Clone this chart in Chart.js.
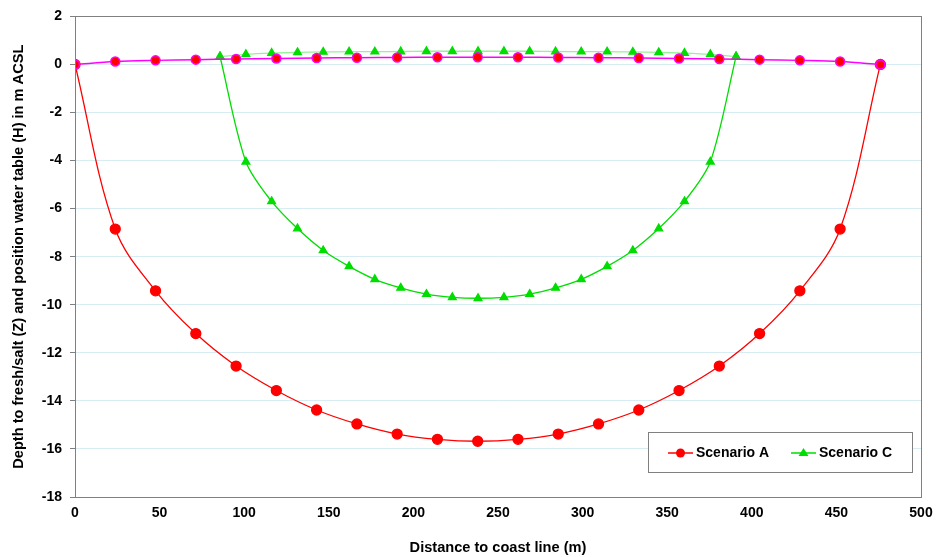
<!DOCTYPE html>
<html>
<head>
<meta charset="utf-8">
<script src="https://cdn.jsdelivr.net/npm/chart.js@4/dist/chart.umd.min.js"></script>
<style>
  html, body { margin: 0; padding: 0; background: #fff; }
  #wrap { width: 937px; height: 557px; }
</style>
</head>
<body>
<div id="wrap"><canvas id="chart"></canvas></div>
<script>
// Scenario A: 21 points along the island
const xA = [0, 23.8, 47.6, 71.4, 95.2, 119, 142.8, 166.6, 190.4, 214.2, 238, 261.8, 285.6, 309.4, 333.2, 357, 380.8, 404.6, 428.4, 452.2, 476];
const depthA = [0, -6.85, -9.42, -11.2, -12.55, -13.57, -14.38, -14.96, -15.38, -15.6, -15.68, -15.6, -15.38, -14.96, -14.38, -13.57, -12.55, -11.2, -9.42, -6.85, 0];
const waterA = [0, 0.12, 0.17, 0.2, 0.23, 0.25, 0.27, 0.28, 0.29, 0.3, 0.3, 0.3, 0.29, 0.28, 0.27, 0.25, 0.23, 0.2, 0.17, 0.12, 0];

// Scenario C: 21 points, narrower lens
const xC = [85.7, 101, 116.2, 131.5, 146.7, 162, 177.2, 192.5, 207.7, 223, 238.2, 253.5, 268.7, 284, 299.2, 314.5, 329.7, 345, 360.2, 375.5, 390.7];
const depthC = [0.33, -4.05, -5.7, -6.83, -7.74, -8.4, -8.94, -9.3, -9.56, -9.69, -9.73, -9.69, -9.56, -9.3, -8.94, -8.4, -7.74, -6.83, -5.7, -4.05, 0.33];
const waterC = [0.33, 0.42, 0.47, 0.5, 0.52, 0.53, 0.53, 0.54, 0.55, 0.55, 0.55, 0.55, 0.55, 0.54, 0.53, 0.53, 0.52, 0.5, 0.47, 0.42, 0.33];

const legendLabels = ['Scenario A', 'Scenario C'];

const pts = (xs, ys) => xs.map((x, i) => ({ x: x, y: ys[i] }));

// legend in a box inside the plot, bottom right
const boxLegend = {
  id: 'boxLegend',
  afterDraw(chart) {
    const ctx = chart.ctx;
    const left = 648, top = 432, w = 264, h = 40;
    ctx.save();
    ctx.fillStyle = '#fff';
    ctx.fillRect(left, top, w, h);
    ctx.strokeStyle = '#808080';
    ctx.lineWidth = 1;
    ctx.strokeRect(left + 0.5, top + 0.5, w, h);
    ctx.font = 'bold 14px "Liberation Sans", Arial, sans-serif';
    ctx.textBaseline = 'middle';
    const cy = top + h / 2 + 1;
    const items = [
      { label: legendLabels[0], ds: chart.data.datasets[0], x: left + 20 },
      { label: legendLabels[1], ds: chart.data.datasets[2], x: left + 143 }
    ];
    items.forEach(it => {
      ctx.strokeStyle = it.ds.borderColor;
      ctx.lineWidth = 1.5;
      ctx.beginPath();
      ctx.moveTo(it.x, cy);
      ctx.lineTo(it.x + 25, cy);
      ctx.stroke();
      ctx.fillStyle = it.ds.pointBackgroundColor;
      ctx.beginPath();
      if (it.ds.pointStyle === 'triangle') {
        ctx.moveTo(it.x + 12.5, cy - 5);
        ctx.lineTo(it.x + 17.5, cy + 3);
        ctx.lineTo(it.x + 7.5, cy + 3);
        ctx.closePath();
      } else {
        ctx.arc(it.x + 12.5, cy, 4.5, 0, Math.PI * 2);
      }
      ctx.fill();
      ctx.fillStyle = '#000';
      ctx.fillText(it.label, it.x + 28, cy);
    });
    ctx.restore();
  }
};

// grey frame around the plot area
const frame = {
  id: 'frame',
  afterDatasetsDraw(chart) {
    const a = chart.chartArea, ctx = chart.ctx;
    ctx.save();
    ctx.strokeStyle = '#808080';
    ctx.lineWidth = 1;
    ctx.strokeRect(Math.round(a.left) + 0.5, Math.round(a.top) + 0.5, Math.round(a.right - a.left), Math.round(a.bottom - a.top));
    ctx.restore();
  }
};

const tickFont = { family: '"Liberation Sans", Arial, sans-serif', size: 14, weight: 'bold' };
const titleFont = { family: '"Liberation Sans", Arial, sans-serif', size: 14.6, weight: 'bold' };

new Chart(document.getElementById('chart').getContext('2d'), {
  type: 'line',
  data: {
    datasets: [
      {
        label: 'Scenario A',
        data: pts(xA, depthA),
        borderColor: '#ff0000',
        backgroundColor: '#ff0000',
        pointBackgroundColor: '#ff0000',
        pointBorderColor: '#ff0000',
        pointStyle: 'circle',
        pointRadius: 5,
        borderWidth: 1.3,
        tension: 0.35,
        order: 2
      },
      {
        label: 'Water table A',
        data: pts(xA, waterA),
        borderColor: '#ff00ff',
        backgroundColor: '#ff0000',
        pointBackgroundColor: '#ff0000',
        pointBorderColor: '#ff00ff',
        pointBorderWidth: 1.5,
        pointStyle: 'circle',
        pointRadius: 4.5,
        borderWidth: 1.5,
        tension: 0.35,
        order: 1
      },
      {
        label: 'Scenario C',
        data: pts(xC, depthC),
        borderColor: '#00dd00',
        backgroundColor: '#00dd00',
        pointBackgroundColor: '#00dd00',
        pointBorderColor: '#00dd00',
        pointStyle: 'triangle',
        pointRadius: 4.5,
        borderWidth: 1.3,
        tension: 0.3,
        order: 4
      },
      {
        label: 'Water table C',
        data: pts(xC, waterC),
        borderColor: '#99f099',
        backgroundColor: '#00dd00',
        pointBackgroundColor: '#00dd00',
        pointBorderColor: '#00dd00',
        pointStyle: 'triangle',
        pointRadius: 4.5,
        borderWidth: 1.3,
        tension: 0.3,
        order: 3
      }
    ]
  },
  options: {
    responsive: true,
    maintainAspectRatio: false,
    animation: false,
    layout: { padding: { top: 12, right: 16, left: 0, bottom: 0 } },
    plugins: {
      legend: { display: false },
      tooltip: { enabled: false }
    },
    scales: {
      x: {
        type: 'linear',
        min: 0,
        max: 500,
        ticks: { stepSize: 50, color: '#000', font: tickFont, padding: 3 },
        grid: { display: false, drawTicks: true, tickLength: 5, tickColor: '#808080' },
        border: { color: '#808080' },
        title: { display: true, text: 'Distance to coast line (m)', color: '#000', font: titleFont, padding: { top: 12, bottom: 0 } },
        afterFit(scale) { scale.height = 60; }
      },
      y: {
        type: 'linear',
        min: -18,
        max: 2,
        ticks: { stepSize: 2, color: '#000', font: tickFont, padding: 8 },
        grid: { color: '#d8ecf3', tickColor: '#808080', tickLength: 5 },
        border: { color: '#808080' },
        title: { display: true, text: 'Depth to fresh/salt (Z) and position water table (H) in m ACSL', color: '#000', font: titleFont, padding: { top: 10, bottom: 4 } },
        afterFit(scale) { scale.width = 75; }
      }
    }
  },
  plugins: [frame, boxLegend]
});
</script>
</body>
</html>
